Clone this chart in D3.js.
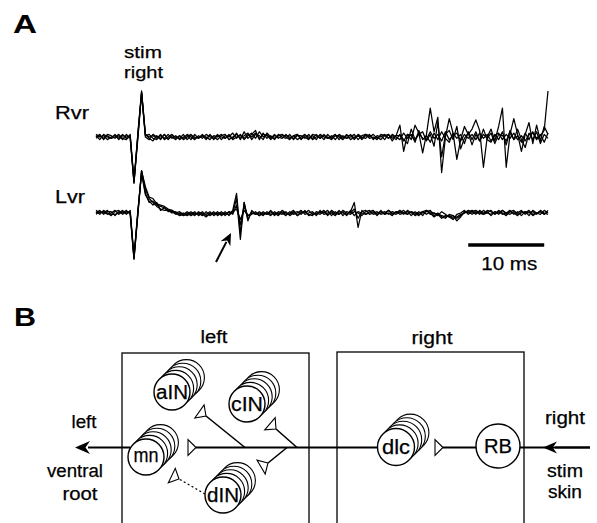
<!DOCTYPE html>
<html><head><meta charset="utf-8">
<script src="https://cdn.jsdelivr.net/npm/d3@7"></script>
<style>html,body{margin:0;padding:0;background:#fff}svg{display:block}</style>
</head><body><svg id="c" width="597" height="523"></svg>
<script>
// ---------- DATA ----------
const DT = 0.5; // ms per sample
const rvrSweeps = [
 [1,-2,2,0,-1,2,-2,1,0,1, -35,0,34,2, -1,-3,1,-2,2,-1,0,-2,1,-1,2,0,-2,1,-1,2,
  0,-1,2,-2,1,0,3,-1,2,-2,1,3,-1,4,0,2,-2,1,0,-1, 2,-1,1,-2,0,2,-1,1,-2,2,0,-1,1,-2,2,0,-1,2,-1,1,
  -2,1,0,2,-1,1,-2,2,-3,1, 9,-11,2,-2,9,3,-12,2,22,4,15,-27,0,14,3,-17,-2,8,2,6,
  13,5,-23,0,6,-3,8,22,-23,2,14,2,-11,2,11,-5,9,-3,8,2],
 [-1,1,-1,2,1,-1,1,-2,2,-1, -34,-2,34,1, 2,-1,-2,1,-1,2,-1,1,-2,0,1,-2,2,-1,1,0,
  -2,1,0,2,-1,1,-1,3,-2,4,-1,2,5,-2,3,-1,1,-2,2,0, -1,2,-2,1,1,-1,2,-2,0,1,-2,2,-1,1,0,-2,1,1,-2,2,
  0,-1,2,-2,1,0,2,-1,1,-2, 2,-2,-5,6,-2,2,4,-3,2,-7,11,-15,2,5,-2,8,-9,-1,3,-6,
  2,-3,6,-2,-4,2,-2,4,-6,5,-2,6,-2,-8,3,-2,4,-5,2,-1],
 [0,2,-2,1,-1,0,2,-1,-2,2, -33,1,33,0, -2,2,0,-1,2,-2,1,0,-1,2,-2,1,0,-1,2,-1,
  1,0,-2,1,2,-2,0,2,-1,1,3,-2,2,1,-2,3,0,-1,1,2, 0,-2,1,2,-1,0,-2,2,1,-1,2,-1,0,2,-2,1,-1,0,2,-2,
  1,2,-1,0,-2,2,1,-1,2,0, -2,3,-1,2,-4,5,-2,1,-4,3,-2,4,-1,-4,3,-1,2,-5,4,-2,
  4,-3,2,-1,3,-5,2,1,-3,4,-2,1,-4,3,-2,4,-1,2,-4,3],
 [2,0,1,-2,0,1,-1,2,-1,0, -35,2,35,2, 0,1,-1,2,-2,0,2,-1,1,-2,0,2,-1,0,1,-2,
  2,-2,1,0,-1,2,-2,0,1,-1,2,0,3,-1,2,1,-1,2,-1,1, 1,0,-1,2,-2,1,0,-1,2,-1,1,0,-2,1,1,-1,2,-2,0,1,
  -1,2,1,-1,0,-2,1,2,-1,1, 1,-3,2,1,-2,3,-1,-2,4,-1,2,-3,4,-2,1,3,-3,2,-1,2,
  -2,3,-1,2,-3,1,3,-2,2,-1,3,-2,1,-3,2,3,-2,1,5,35]
];
const lvrSweeps = [
 [1,-1,2,0,-2,1,2,-1,1,0, -35,-2,32,18, 11,8,5,3,2,2,0,1,-1,0,-2,
  0,-2,1,-1,-3,0,-1,1,-2,0,-1,2,15,-15,8,-6,2,-1,0,-2,1,-1,0,-2,1,
  -1,0,2,-2,0,1,-1,-2,1,0,2,-1,0,-2,1,0,-1,1,8,-11,2,-1,0,1,-2,2,-1,0,-2,1,
  0,2,-1,1,-2,0,1,2,-1,0,-2,1,-1,-3,-2,-4,-2,0,2,1, -1,2,0,1,-2,1,0,2,-1,1,0,-2,1,0,2,-1,0,1,-1,1],
 [-1,1,0,2,-1,-1,0,2,-1,2, -34,-1,32,15, 8,9,6,5,4,2,1,-1,0,-2,-1,
  1,-1,0,-2,1,-2,0,-1,1,-2,1,0,11,-20,8,-5,1,0,-2,1,-1,2,-1,0,-1,
  1,-2,0,1,-1,2,-2,0,-1,1,0,2,-2,1,-1,2,0,-1,1,0,-2,1,2,-1,0,1,-1,2,0,-1,
  1,-1,2,0,-1,1,-2,2,0,-3,-1,-4,-2,-3,-5,-1,0,2,-1,1, 2,0,-1,2,1,-1,2,0,-2,1,2,-1,0,1,-2,2,0,-1,2,0],
 [0,2,-1,1,1,-2,1,0,2,-1, -35,0,32,20, 12,11,7,6,5,3,2,0,-2,-1,0,
  -2,0,-1,1,-2,-1,1,-2,0,-1,1,-1,6,-9,5,-2,-1,1,-2,0,-1,1,-2,1,0,
  -2,1,-1,0,2,-1,0,1,-2,2,-1,0,1,-1,2,-2,1,0,3,-4,1,2,-1,0,1,-1,0,2,-1,1,
  -1,0,1,-2,1,-1,0,1,2,-2,0,-3,-4,-1,-2,-6,-3,1,0,2, 0,1,-1,0,2,-1,1,-1,0,2,-1,1,-2,1,0,1,-1,2,0,-1],
 [2,0,1,-1,0,2,-1,1,0,1, -33,1,30,14, 9,6,8,2,4,1,2,0,1,-1,1,
  -1,1,-2,0,-1,1,-2,0,-1,1,-2,1,3,-5,2,-2,0,-1,1,-1,0,-2,1,-1,2,
  0,-1,1,-2,1,0,2,-1,0,-1,1,-2,2,0,-1,1,-2,2,-2,1,0,-1,1,2,-1,0,1,-1,1,0,
  2,0,-1,1,0,-2,1,-1,1,0,-1,-2,-3,-2,-4,-3,-1,0,1,-1, 1,-1,2,0,-1,1,-1,2,0,-1,1,0,2,-1,1,-2,0,1,-1,2]
];
const channelLabels = ["Rvr", "Lvr"];
const stimLabelLines = ["stim", "right"];
const scaleBarMs = 10;
const scaleBarLabel = "10 ms";
const panelLabels = ["A", "B"];
const boxLabels = ["left", "right"];
const cellNames = ["aIN", "cIN", "mn", "dIN", "dlc", "RB"];
const cellStackCount = [5, 5, 5, 5, 5, 1];
const outputLabelLines = ["left", "ventral", "root"];
const inputLabelLines = ["right", "stim", "skin"];

// ---------- LAYOUT ----------
const FONT = "'Liberation Sans', Arial, Helvetica, sans-serif";
const svg = d3.select("#c");
svg.append("rect").attr("width", 597).attr("height", 523).attr("fill", "#fff");

function txt(s, x, y, size, width, anchor, weight) {
  const t = svg.append("text").attr("x", x).attr("y", y)
    .attr("font-family", FONT).attr("font-size", size)
    .attr("font-weight", weight || "normal")
    .attr("text-anchor", anchor || "middle").attr("fill", "#000").text(s);
  if (weight !== "bold") t.attr("stroke", "#000").attr("stroke-width", 0.25);
  if (width) t.attr("textLength", width).attr("lengthAdjust", "spacingAndGlyphs");
  return t;
}

// Panel letters
txt(panelLabels[0], 13, 33, 25, 24, "start", "bold");
txt(panelLabels[1], 14, 326, 25, 22, "start", "bold");

// ---------- PANEL A ----------
const nSamp = rvrSweeps[0].length;
const x = d3.scaleLinear().domain([0, (nSamp - 1) * DT]).range([96, 548]);
const yR = d3.scaleLinear().domain([-38, 38]).range([187, 87]);
const yL = d3.scaleLinear().domain([-38, 38]).range([263, 163]);

function drawSweeps(sweeps, y) {
  const line = d3.line().x((d, i) => x(i * DT)).y(d => y(d));
  svg.append("g").selectAll("path").data(sweeps).join("path")
    .attr("d", line).attr("fill", "none").attr("stroke", "#000")
    .attr("stroke-width", 1.25).attr("stroke-linejoin", "round");
}
drawSweeps(rvrSweeps, yR);
drawSweeps(lvrSweeps, yL);

txt(channelLabels[0], 55, 119, 18, 34, "start");
txt(channelLabels[1], 55, 203, 18, 30, "start");
txt(stimLabelLines[0], 143, 57.5, 17, 38);
txt(stimLabelLines[1], 143.5, 77.5, 17, 39);

// scale bar
const sbEnd = (nSamp - 1) * DT - 0.5;
svg.append("line").attr("x1", x(sbEnd - scaleBarMs)).attr("x2", x(sbEnd))
  .attr("y1", 245).attr("y2", 245).attr("stroke", "#000").attr("stroke-width", 3.5);
txt(scaleBarLabel, (x(sbEnd - scaleBarMs) + x(sbEnd)) / 2 + 3, 270, 19, 56);

// arrow helper
function arrow(x1, y1, x2, y2, len, half, w) {
  const dx = x2 - x1, dy = y2 - y1, L = Math.hypot(dx, dy), ux = dx / L, uy = dy / L;
  const bx = x2 - ux * len, by = y2 - uy * len;
  svg.append("line").attr("x1", x1).attr("y1", y1).attr("x2", bx + ux * 2).attr("y2", by + uy * 2)
    .attr("stroke", "#000").attr("stroke-width", w);
  const nx = bx + ux * len * 0.3, ny = by + uy * len * 0.3;
  svg.append("path").attr("d",
    `M${x2},${y2}L${bx - uy * half},${by + ux * half}L${nx},${ny}L${bx + uy * half},${by - ux * half}Z`)
    .attr("fill", "#000");
}
arrow(216, 262, 231, 233, 12, 5.5, 2);

// ---------- PANEL B ----------
const boxes = [[122, 353, 187], [337, 352, 187]];
boxes.forEach(b => {
  svg.append("rect").attr("x", b[0]).attr("y", b[1]).attr("width", b[2]).attr("height", 200)
    .attr("fill", "none").attr("stroke", "#000").attr("stroke-width", 1.3);
});
txt(boxLabels[0], 214, 343, 18, 27);
txt(boxLabels[1], 432, 344, 18, 41);

const mainY = 447.5;
const cellPos = { aIN: [172, 392, 18], cIN: [247, 404, 18], mn: [146, 457, 18],
  dIN: [223, 495, 18], dlc: [396, 447, 18.5], RB: [498, 446, 22] };
const labelW = { aIN: 32, cIN: 32, mn: 25, dIN: 32, dlc: 28, RB: 28 };

function seg(x1, y1, x2, y2, w, dash) {
  const l = svg.append("line").attr("x1", x1).attr("y1", y1).attr("x2", x2).attr("y2", y2)
    .attr("stroke", "#000").attr("stroke-width", w || 1.5);
  if (dash) l.attr("stroke-dasharray", dash);
}
function synapse(ex, ey, tx, ty) {
  const dx = tx - ex, dy = ty - ey, L = Math.hypot(dx, dy), ux = dx / L, uy = dy / L;
  const bx = ex + ux * 8, by = ey + uy * 8, h = 8;
  svg.append("path").attr("d",
    `M${ex},${ey}L${bx - uy * h},${by + ux * h}L${bx + uy * h},${by - ux * h}Z`)
    .attr("fill", "#fff").attr("stroke", "#000").attr("stroke-width", 1.1);
}

// axons
seg(196, mainY, 378, mainY, 1.9);
seg(245, mainY, 206, 416, 1.6);
seg(297, mainY, 276, 429, 1.6);
seg(287, mainY, 268, 463, 1.6);
seg(205, 494, 179, 479, 1.4, "2,2.5");
seg(443, mainY, 477, mainY, 1.9);
arrow(130, mainY, 75, mainY, 15, 6.5, 2);
seg(520, mainY, 590, mainY, 2);
arrow(590, mainY, 543, mainY, 14, 6, 2);

// synapses
synapse(196, mainY, 150, mainY);
synapse(206, 416, 172, 392);
synapse(276, 429, 247, 404);
synapse(268, 463, 236, 482);
synapse(179, 479, 150, 465);
synapse(443, mainY, 396, mainY);

// cells
const OFF = 3.6;
cellNames.forEach((name, i) => {
  const [cx, cy, r] = cellPos[name];
  const g = svg.append("g");
  for (let k = cellStackCount[i] - 1; k >= 0; k--) {
    g.append("circle").attr("cx", cx + k * OFF).attr("cy", cy - k * OFF).attr("r", r)
      .attr("fill", "#fff").attr("stroke", "#000").attr("stroke-width", k === 0 ? 1.4 : 1.1);
  }
  const dyText = name === "mn" ? 4.5 : 7;
  txt(name, cx, cy + dyText, 20, labelW[name]);
});

// side labels
txt(outputLabelLines[0], 84, 428, 18, 25);
txt(outputLabelLines[1], 75, 477, 18, 56);
txt(outputLabelLines[2], 80, 500, 18, 35);
txt(inputLabelLines[0], 565, 424, 18, 40);
txt(inputLabelLines[1], 565, 477, 18, 36);
txt(inputLabelLines[2], 565, 498, 18, 34);
</script></body></html>
